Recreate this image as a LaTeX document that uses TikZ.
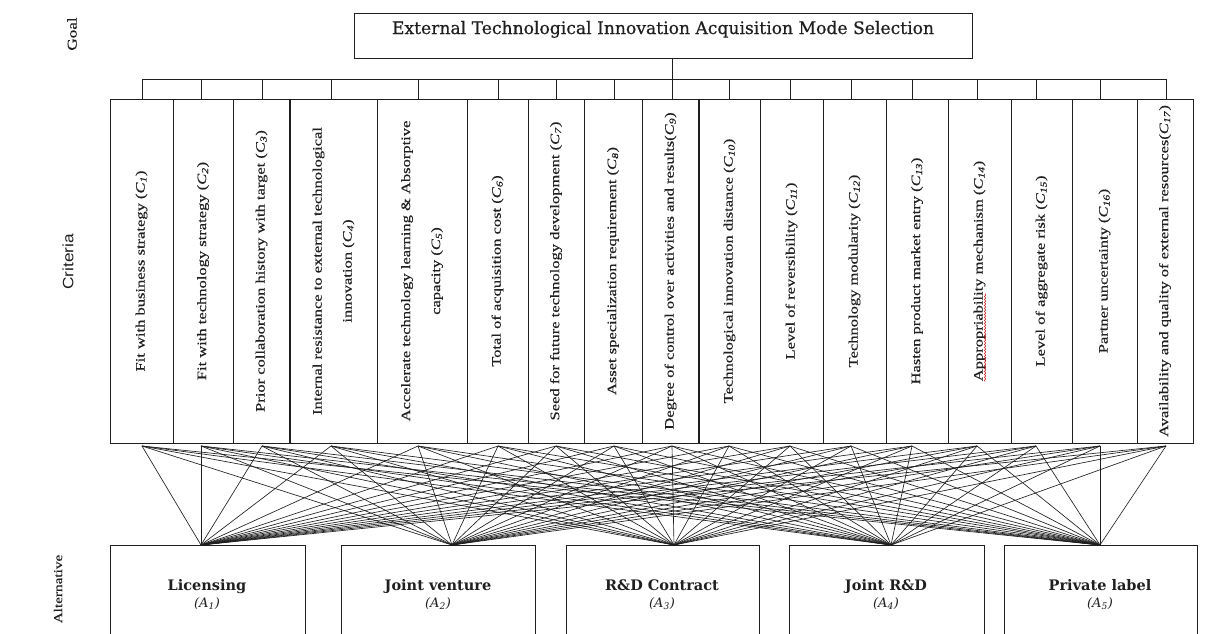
\documentclass[tikz,border=0pt]{standalone}
\usepackage{fontspec}
\usetikzlibrary{decorations.pathmorphing}
\setmainfont{Liberation Serif}
\newfontfamily\critfont[FakeStretch=1.27,FakeBold=0.3]{Liberation Serif}
\newfontfamily\lblsans[FakeStretch=1.15]{Liberation Sans}
\newfontfamily\goalfont[FakeBold=0.6]{DejaVu Serif}
\newfontfamily\altfont{DejaVu Serif}
\newcommand\Csub[1]{(\textit{C}\textsubscript{\textit{#1}})}
\newcommand\Asub[1]{\textit{(A\textsubscript{#1})}}
\definecolor{linec}{gray}{0.12}
\definecolor{fanc}{gray}{0.12}
\definecolor{textc}{gray}{0.12}
\tikzset{
  box/.style={draw=linec, line width=0.9pt, inner sep=0pt, fill=white},
  critbox/.style={box, minimum height=344pt},
  crittext/.style={rotate=90, align=center, inner sep=0pt, text=textc,
                   font=\critfont\fontsize{13}{30}\selectfont},
  sidelabel/.style={rotate=90, inner sep=0pt, text=textc},
  altbox/.style={box, minimum height=105pt},
  alttext/.style={inner sep=0pt, anchor=base, text=textc, font=\altfont\bfseries\fontsize{14.5}{16}\selectfont},
  altsub/.style={inner sep=0pt, anchor=base, text=textc, font=\altfont\fontsize{13}{15}\selectfont},
  fan/.style={draw=fanc, line width=0.65pt},
  wire/.style={draw=linec, line width=0.9pt},
  squiggle/.style={draw=red!80!black, line width=0.5pt, decorate,
                   decoration={snake, amplitude=0.7pt, segment length=3pt}},
}
\begin{document}
\begin{tikzpicture}[x=1pt,y=-1pt]
\useasboundingbox (0,0) rectangle (1208,633);
\clip (0,0) rectangle (1208,633);
\fill[white] (0,0) rectangle (1208,633);

% side labels
\node[sidelabel, font=\critfont\fontsize{13.5}{15}\selectfont] (lgoal) at (72,34) {Goal};
\node[sidelabel, font=\lblsans\fontsize{15}{17}\selectfont] (lcrit) at (68,262) {Criteria};
\node[sidelabel, font=\critfont\fontsize{12}{14}\selectfont] (lalt) at (58,589) {Alternative};

% goal
\node[box, minimum width=618pt, minimum height=45pt] (goal) at (663,35.5) {};
\node[inner sep=0pt, anchor=base, text=textc] (goalt) at (663,34)
  {\resizebox{542pt}{!}{\goalfont External Technological Innovation Acquisition Mode Selection}};

% criteria boxes
\node[critbox, minimum width=63pt] (c1) at (141.5,271) {};
\node[critbox, minimum width=60pt] (c2) at (203,271) {};
\node[critbox, minimum width=57pt] (c3) at (261.5,271) {};
\node[critbox, minimum width=87pt] (c4) at (333.5,271) {};
\node[critbox, minimum width=90pt] (c5) at (422,271) {};
\node[critbox, minimum width=61pt] (c6) at (497.5,271) {};
\node[critbox, minimum width=56pt] (c7) at (556,271) {};
\node[critbox, minimum width=58pt] (c8) at (613,271) {};
\node[critbox, minimum width=57pt] (c9) at (670.5,271) {};
\node[critbox, minimum width=61pt] (c10) at (729.5,271) {};
\node[critbox, minimum width=63pt] (c11) at (791.5,271) {};
\node[critbox, minimum width=63pt] (c12) at (854.5,271) {};
\node[critbox, minimum width=62pt] (c13) at (917,271) {};
\node[critbox, minimum width=63pt] (c14) at (979.5,271) {};
\node[critbox, minimum width=61pt] (c15) at (1041.5,271) {};
\node[critbox, minimum width=65pt] (c16) at (1104.5,271) {};
\node[critbox, minimum width=56pt] (c17) at (1165,271) {};
% heavier dividers
\draw[linec, line width=1.8pt] (c4.north west) -- (c4.south west);
\draw[linec, line width=1.8pt] (c10.north west) -- (c10.south west);

% criteria texts
\node[crittext] (x1) at (c1) {Fit with business strategy \Csub{1}};
\node[crittext] (x2) at (c2) {Fit with technology strategy \Csub{2}};
\node[crittext] (x3) at (c3) {Prior collaboration history with target \Csub{3}};
\node[crittext] (x4) at (c4) {Internal resistance to external technological\\innovation \Csub{4}};
\node[crittext] (x5) at (c5) {Accelerate technology learning \& Absorptive\\capacity \Csub{5}};
\node[crittext] (x6) at (c6) {Total of acquisition cost \Csub{6}};
\node[crittext] (x7) at (c7) {Seed for future technology development \Csub{7}};
\node[crittext] (x8) at (c8) {Asset specialization requirement \Csub{8}};
\node[crittext] (x9) at (c9) {Degree of control over activities and results\Csub{9}};
\node[crittext] (x10) at (c10) {Technological innovation distance \Csub{10}};
\node[crittext] (x11) at (c11) {Level of reversibility \Csub{11}};
\node[crittext] (x12) at (c12) {Technology modularity \Csub{12}};
\node[crittext] (x13) at (c13) {Hasten product market entry \Csub{13}};
\node[crittext] (x14) at (c14) {Appropriability mechanism \Csub{14}};
\node[crittext] (x15) at (c15) {Level of aggregate risk \Csub{15}};
\node[crittext] (x16) at (c16) {Partner uncertainty \Csub{16}};
\node[crittext] (x17) at (c17) {Availability and quality of external resources\Csub{17}};
% spell-check underline under "Appropriability"
\coordinate (sq1) at ([xshift=-0.5pt]x14.south west);
\coordinate (sq2) at ([xshift=-0.5pt, yshift=88pt]x14.south west);
\draw[squiggle] (sq1) -- (sq2);

% bus, ticks and fan points
\foreach \xx [count=\i] in {142,201,262,331,418,498,556,614,672,729,790,851,912,977,1036,1100,1166}{
  \coordinate (t\i) at (\xx,79);
  \coordinate (u\i) at (\xx,99);
  \coordinate (f\i) at (\xx,446);
}
\draw[wire] (t1) -- (t17);
\foreach \i in {1,...,17}{ \draw[wire] (t\i) -- (u\i); }
\draw[wire] (goal.south -| t9) -- (u9);

% alternatives
\node[altbox, minimum width=195pt] (a1) at (207.5,597.5) {};
\node[altbox, minimum width=194pt] (a2) at (438,597.5) {};
\node[altbox, minimum width=193pt] (a3) at (662.5,597.5) {};
\node[altbox, minimum width=195pt] (a4) at (886.5,597.5) {};
\node[altbox, minimum width=193pt] (a5) at (1100.5,597.5) {};
\foreach \xx [count=\j] in {201,452,674,891,1100}{ \coordinate (p\j) at (\xx,545); }

\node[alttext] (n1) at (207,590) {Licensing};
\node[altsub]  (s1) at (207,607) {\Asub{1}};
\node[alttext] (n2) at (438,590) {Joint venture};
\node[altsub]  (s2) at (438,607) {\Asub{2}};
\node[alttext] (n3) at (662,590) {R\&D Contract};
\node[altsub]  (s3) at (662,607) {\Asub{3}};
\node[alttext] (n4) at (886,590) {Joint R\&D};
\node[altsub]  (s4) at (886,607) {\Asub{4}};
\node[alttext] (n5) at (1100,590) {Private label};
\node[altsub]  (s5) at (1100,607) {\Asub{5}};

% connectors criteria -> alternatives
\foreach \i in {1,...,17}{
  \foreach \j in {1,...,5}{ \draw[fan] (f\i) -- (p\j); }
}
\end{tikzpicture}
\end{document}
